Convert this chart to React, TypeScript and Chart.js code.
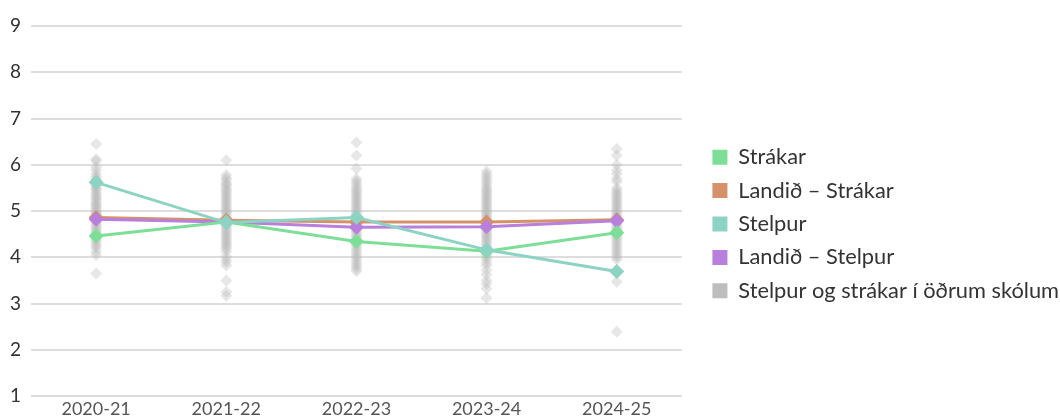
import React, { useEffect, useRef } from "react";
import { Chart, registerables, layouts } from "chart.js";

Chart.register(...registerables);

const categories = ["2020-21", "2021-22", "2022-23", "2023-24", "2024-25"];

const strakar = [4.46, 4.76, 4.34, 4.13, 4.53];
const landidStrakar = [4.86, 4.8, 4.76, 4.76, 4.81];
const stelpur = [5.62, 4.75, 4.86, 4.16, 3.69];
const landidStelpur = [4.82, 4.76, 4.65, 4.66, 4.79];

const others2020 = [6.45, 6.12, 6.08, 5.95, 5.88, 5.8, 5.74, 5.7, 5.65, 5.6, 5.55, 5.52, 5.48, 5.45, 5.4, 5.36, 5.32, 5.28, 5.25, 5.2, 5.17, 5.13, 5.1, 5.06, 5.02, 4.98, 4.95, 4.92, 4.88, 4.85, 4.82, 4.78, 4.74, 4.7, 4.66, 4.62, 4.58, 4.54, 4.5, 4.45, 4.4, 4.35, 4.3, 4.25, 4.2, 4.12, 4.05, 3.65];
const others2021 = [6.1, 5.78, 5.72, 5.68, 5.62, 5.58, 5.55, 5.5, 5.46, 5.42, 5.38, 5.34, 5.3, 5.26, 5.22, 5.18, 5.14, 5.1, 5.06, 5.02, 4.98, 4.95, 4.9, 4.86, 4.82, 4.78, 4.74, 4.7, 4.66, 4.62, 4.58, 4.54, 4.5, 4.46, 4.42, 4.38, 4.34, 4.3, 4.26, 4.22, 4.18, 4.12, 4.02, 3.95, 3.9, 3.82, 3.5, 3.25, 3.17];
const others2022 = [6.48, 6.2, 5.92, 5.7, 5.65, 5.6, 5.55, 5.5, 5.46, 5.42, 5.38, 5.34, 5.3, 5.26, 5.22, 5.18, 5.14, 5.1, 5.06, 5.02, 4.98, 4.94, 4.9, 4.86, 4.82, 4.78, 4.74, 4.7, 4.66, 4.62, 4.58, 4.54, 4.5, 4.46, 4.42, 4.38, 4.34, 4.3, 4.25, 4.2, 4.15, 4.1, 4.05, 4.0, 3.95, 3.9, 3.85, 3.8, 3.75, 3.7];
const others2023 = [5.86, 5.8, 5.75, 5.7, 5.65, 5.6, 5.55, 5.5, 5.46, 5.42, 5.38, 5.34, 5.3, 5.26, 5.22, 5.18, 5.14, 5.1, 5.06, 5.02, 4.98, 4.94, 4.9, 4.86, 4.82, 4.78, 4.74, 4.7, 4.66, 4.62, 4.58, 4.54, 4.5, 4.46, 4.42, 4.38, 4.34, 4.3, 4.25, 4.2, 4.15, 4.1, 4.05, 4.0, 3.95, 3.88, 3.82, 3.72, 3.62, 3.5, 3.42, 3.32, 3.12];
const others2024 = [6.34, 6.2, 6.0, 5.88, 5.8, 5.7, 5.63, 5.5, 5.45, 5.4, 5.36, 5.32, 5.28, 5.24, 5.2, 5.16, 5.12, 5.08, 5.04, 5.0, 4.96, 4.92, 4.88, 4.84, 4.8, 4.76, 4.72, 4.68, 4.64, 4.6, 4.56, 4.52, 4.48, 4.44, 4.4, 4.35, 4.3, 4.25, 4.2, 4.15, 4.1, 4.05, 4.0, 3.95, 3.47, 2.39];
const othersByYear = [others2020, others2021, others2022, others2023, others2024];

const seriesLabels = [
  "Strákar",
  "Landið – Strákar",
  "Stelpur",
  "Landið – Stelpur",
  "Stelpur og strákar í öðrum skólum",
];
const seriesColors = ["#7ddf97", "#d4916a", "#8dd3c3", "#b87fdc", "#bdbdbd"];
const othersPointColor = "rgba(185,185,185,0.35)";

const FONT = "Lato, 'Open Sans', sans-serif";
const LEGEND_GAP = 19;

const gapPlugin = {
  id: "legendGap",
  beforeInit(chart: any) {
    const box: any = {
      position: "right",
      weight: 10,
      fullSize: false,
      options: { display: true, stackWeight: 1 },
      width: 0,
      height: 0,
      left: 0,
      top: 0,
      right: 0,
      bottom: 0,
      isHorizontal() {
        return false;
      },
      update(_maxWidth: number, maxHeight: number) {
        this.width = LEGEND_GAP;
        this.height = maxHeight;
        return { width: LEGEND_GAP, height: maxHeight };
      },
      draw() {},
    };
    layouts.addBox(chart, box);
  },
};

export default function App() {
  const ref = useRef<HTMLCanvasElement | null>(null);

  useEffect(() => {
    let chart: Chart | null = null;
    let cancelled = false;

    const build = () => {
      if (cancelled || !ref.current) return;
      const othersPoints: { x: string; y: number }[] = [];
      othersByYear.forEach((arr, i) => {
        arr.forEach((v) => othersPoints.push({ x: categories[i], y: v }));
      });

      const lineDs = (data: number[], idx: number, order: number) => ({
        label: seriesLabels[idx],
        data,
        borderColor: seriesColors[idx],
        backgroundColor: seriesColors[idx],
        pointBackgroundColor: seriesColors[idx],
        pointBorderColor: seriesColors[idx],
        borderWidth: 3,
        pointStyle: "rectRot",
        pointRadius: 7.5,
        pointBorderWidth: 0,
        tension: 0,
        order,
      });

      chart = new Chart(ref.current, {
        type: "line",
        data: {
          labels: categories,
          datasets: [
            lineDs(strakar, 0, 1),
            lineDs(landidStrakar, 1, 3),
            lineDs(stelpur, 2, 0),
            lineDs(landidStelpur, 3, 2),
            {
              label: seriesLabels[4],
              data: othersPoints as any,
              showLine: false,
              borderColor: othersPointColor,
              backgroundColor: othersPointColor,
              pointBackgroundColor: othersPointColor,
              pointBorderWidth: 0,
              pointStyle: "rectRot",
              pointRadius: 6,
              order: 10,
            } as any,
          ],
        },
        plugins: [gapPlugin as any],
        options: {
          animation: false,
          responsive: true,
          maintainAspectRatio: false,
          layout: { padding: { top: 26, left: 0, right: -9, bottom: -3 } },
          plugins: {
            tooltip: { enabled: false },
            legend: {
              position: "right",
              maxWidth: 420,
              labels: {
                boxWidth: 15,
                boxHeight: 15,
                padding: 11.6,
                color: "#333",
                font: { family: FONT, size: 21.8 },
                generateLabels: (c: any) =>
                  c.data.datasets.map((ds: any, i: number) => ({
                    text: ds.label,
                    fillStyle: seriesColors[i],
                    strokeStyle: seriesColors[i],
                    lineWidth: 0,
                    hidden: false,
                    datasetIndex: i,
                    fontColor: "#333",
                  })),
              },
            },
          },
          scales: {
            x: {
              offset: true,
              grid: { display: false, drawTicks: false },
              border: { display: false },
              ticks: { color: "#555", font: { family: FONT, size: 18, lineHeight: 1.0 }, padding: 4 },
            },
            y: {
              min: 1,
              max: 9,
              ticks: { stepSize: 1, color: "#333", font: { family: FONT, size: 19 }, padding: 10 },
              grid: { color: "#dddddd", lineWidth: 2, drawTicks: false },
              border: { display: false },
            },
          },
        },
      });
    };

    const fontsApi = (document as any).fonts;
    if (fontsApi && fontsApi.load) {
      Promise.all([
        fontsApi.load(`19px Lato`),
        fontsApi.load(`21.8px Lato`),
        fontsApi.load(`18px Lato`),
      ])
        .catch(() => null)
        .then(() => build());
    } else {
      build();
    }

    return () => {
      cancelled = true;
      if (chart) chart.destroy();
    };
  }, []);

  return (
    <div style={{ position: "fixed", left: 0, top: 0, width: 1060, height: 419 }}>
      <canvas ref={ref} />
    </div>
  );
}
